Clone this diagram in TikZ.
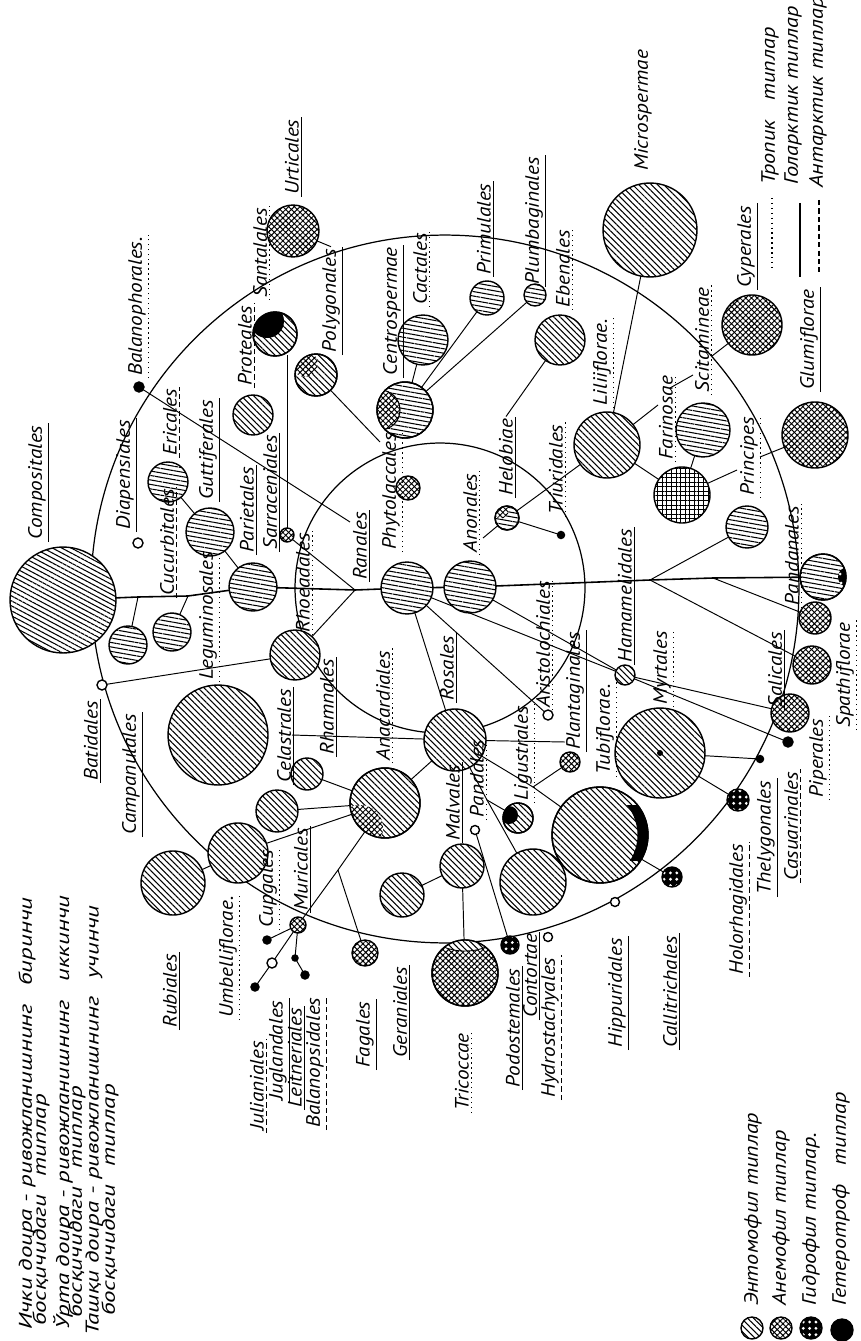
\documentclass[tikz,border=0pt]{standalone}
\usepackage{fontspec}
\setmainfont{PT Sans}
\newfontfamily\lf{PT Sans}[FakeStretch=1.1]
\newfontfamily\gf{PT Sans}[FakeStretch=1.15]
\newfontfamily\hf{PT Sans}[FakeStretch=1.35]
\usetikzlibrary{patterns.meta}
\pgfdeclarelayer{bg}
\pgfsetlayers{bg,main}
\tikzset{
  ento/.style={pattern={Lines[angle=-45,distance=2.5pt,line width=0.6pt]}},
  entos/.style={pattern={Lines[angle=-28,distance=2.5pt,line width=0.6pt]}},
  entoh/.style={pattern={Lines[angle=-10,distance=2.5pt,line width=0.6pt]}},
  anem/.style={pattern={Hatch[angle=45,distance=2.3pt,line width=0.55pt]}},
  anemq/.style={pattern={Hatch[angle=0,distance=2.6pt,line width=0.55pt]}},
  hydro/.style={preaction={fill=black},pattern={Dots[distance=3.6pt,radius=0.9pt]},pattern color=white},
  hetero/.style={fill=black},
  openc/.style={},
  sph/.style={circle,draw,line width=0.8pt,inner sep=0pt,outer sep=0pt,preaction={fill=white}},
  lbl/.style={rotate=90,anchor=west,inner sep=1.2pt,font=\lf\itshape\fontsize{11}{12}\selectfont},
  lgt/.style={rotate=90,anchor=west,inner sep=1pt,font=\gf\itshape\fontsize{11}{12}\selectfont},
  lgs/.style={rotate=90,anchor=west,inner sep=1pt,font=\hf\itshape\fontsize{10.5}{11}\selectfont},
  ulsol/.style={line width=0.7pt},
  uldot/.style={line width=0.8pt,dotted},
  uldash/.style={line width=0.7pt,dash pattern=on 3pt off 1.8pt},
  ulnone/.style={draw=none},
  con/.style={line width=0.55pt},
  trunk/.style={line width=0.9pt},
  ring/.style={line width=0.7pt}
}
\newcommand\sphere[4]{\node[sph,#4,minimum size={#3*0.04cm}] (#1) at (#2) {};}
\newcommand\lab[4]{\node[lbl] (#1) at (#2) {#3}; \draw[#4] (#1.south west) -- (#1.south east);}
\begin{document}
\begin{tikzpicture}[x=0.02cm,y=-0.02cm]
\begin{pgfonlayer}{bg}
\fill[white] (0,0) rectangle (861,1341);
\end{pgfonlayer}
\useasboundingbox (0,0) rectangle (861,1341);

% ---------- spheres ----------
\sphere{urt}{293,231}{26}{anem}
\sphere{san}{275,334}{22}{ento}
\sphere{pro}{253,415}{20}{ento}
\sphere{pol}{316,375}{21}{ento}
\sphere{cen}{423,340}{25}{entoh}
\sphere{phy}{405,410}{28}{entoh}
\sphere{sma}{408,488}{12}{anem}
\sphere{ran}{407,588}{26}{entoh}
\sphere{ano}{470,587}{26}{entoh}
\sphere{hel}{507,518}{12}{entoh}
\sphere{dtr}{561,535}{3.5}{hetero}
\sphere{ebe}{560,340}{25}{ento}
\sphere{pri}{487,298}{17}{entoh}
\sphere{plu}{535,295}{11}{entoh}
\sphere{cyp}{752,325}{30}{anem}
\sphere{mic}{650,230}{47}{ento}
\sphere{glu}{815,435}{33}{anem}
\sphere{lil}{607,445}{33}{ento}
\sphere{far}{703,430}{27}{entoh}
\sphere{sxx}{682,495}{28}{anemq}
\sphere{prc}{747,527}{21}{entoh}
\sphere{pan}{823,577}{23}{entoh}
\sphere{sac}{815,618}{16}{anem}
\sphere{spa}{812,665}{19}{anem}
\sphere{pip}{790,713}{19}{anem}
\sphere{pid}{788,742}{5}{hetero}
\sphere{myr}{660,753}{45}{ento}
\sphere{cad}{760,759}{3.5}{hetero}
\sphere{hol}{738,800}{11}{hydro}
\sphere{tub}{600,835}{48}{ento}
\sphere{cal}{672,877}{10}{hydro}
\sphere{hip}{615,902}{4.5}{openc}
\sphere{ros}{455,740}{31}{ento}
\sphere{ana}{385,803}{35}{ento}
\sphere{cel}{307,774}{16}{ento}
\sphere{cup}{277,811}{21}{ento}
\sphere{mal}{462,866}{22}{ento}
\sphere{ger}{402,895}{22}{ento}
\sphere{tri}{465,973}{33}{anem}
\sphere{fag}{365,953}{13}{anem}
\sphere{pod}{510,945}{9}{hydro}
\sphere{mur}{298,925}{8}{anem}
\sphere{lig}{518,818}{15}{ento}
\sphere{con}{533,882}{33}{ento}
\sphere{pla}{570,762}{10}{anem}
\sphere{ari}{548,715}{5}{openc}
\sphere{pnd}{475,830}{4.5}{openc}
\sphere{hyd}{548,937}{4.5}{openc}
\sphere{com}{63,600}{53}{entos}
\sphere{cam}{128,645}{19}{entoh}
\sphere{cuc}{172,632}{19}{entoh}
\sphere{eri}{168,482}{20}{entoh}
\sphere{gut}{210,532}{24}{entoh}
\sphere{par}{253,587}{24}{entoh}
\sphere{rho}{295,655}{25}{ento}
\sphere{dia}{138,543}{5}{openc}
\sphere{sar}{287,535}{7}{anem}
\sphere{bal}{139,387}{5}{hetero}
\sphere{bat}{102,685}{5}{openc}
\sphere{leg}{218,735}{50}{ento}
\sphere{rub}{173,883}{32}{ento}
\sphere{umb}{238,853}{30}{ento}
\sphere{d1}{267,940}{4}{hetero}
\sphere{d2}{272,963}{5}{openc}
\sphere{d3}{255,987}{4}{hetero}
\sphere{d4}{295,958}{3}{hetero}
\sphere{d5}{305,975}{4}{hetero}
\sphere{ham}{625,675}{10}{ento}

% ---------- mixed fillings ----------
\begin{scope}
\clip (san.center) circle[radius=0.44cm];
\fill[black] (267,321) circle[radius=0.34cm];
\end{scope}
\draw[line width=0.8pt] (san.center) circle[radius=0.44cm];
\begin{scope}
\clip (phy.center) circle[radius=0.56cm];
\fill[white] (380,410) circle[radius=0.4cm];
\fill[anem] (380,410) circle[radius=0.4cm];
\draw[line width=0.6pt] (380,410) circle[radius=0.4cm];
\end{scope}
\draw[line width=0.8pt] (phy.center) circle[radius=0.56cm];
\begin{scope}
\clip (pol.center) circle[radius=0.42cm];
\fill[white] (305,364) circle[radius=0.26cm];
\fill[anem] (305,364) circle[radius=0.26cm];
\end{scope}
\draw[line width=0.8pt] (pol.center) circle[radius=0.42cm];
\begin{scope}
\clip (ana.center) circle[radius=0.7cm];
\fill[white] (360,828) circle[radius=0.46cm];
\fill[anem] (360,828) circle[radius=0.46cm];
\end{scope}
\draw[line width=0.8pt] (ana.center) circle[radius=0.7cm];
\begin{scope}
\clip (tub.center) circle[radius=0.96cm];
\clip (620,805) rectangle (660,860);
\fill[black,even odd rule] (600,835) circle[radius=0.96cm] (590,835) circle[radius=0.95cm];
\end{scope}
\draw[line width=0.8pt] (tub.center) circle[radius=0.96cm];
\begin{scope}
\clip (tri.center) circle[radius=0.66cm];
\fill[white] (465,936) ellipse[x radius=0.62cm,y radius=0.3cm];
\fill[ento] (465,936) ellipse[x radius=0.62cm,y radius=0.3cm];
\draw[line width=0.5pt] (465,936) ellipse[x radius=0.62cm,y radius=0.3cm];
\end{scope}
\draw[line width=0.8pt] (tri.center) circle[radius=0.66cm];
\begin{scope}
\clip (lig.center) circle[radius=0.3cm];
\fill[black] (509,815) circle[radius=0.18cm];
\end{scope}
\draw[line width=0.8pt] (lig.center) circle[radius=0.3cm];
\begin{scope}
\clip (pan.center) circle[radius=0.46cm];
\fill[black] (848,577) circle[radius=0.2cm];
\fill[white] (840,574) circle[radius=0.03cm];
\fill[white] (841,583) circle[radius=0.03cm];
\end{scope}
\draw[line width=0.8pt] (pan.center) circle[radius=0.46cm];
\begin{scope}
\clip (hel.center) circle[radius=0.24cm];
\fill[white] (501,511) circle[radius=0.15cm];
\fill[anem] (501,511) circle[radius=0.15cm];
\end{scope}
\draw[line width=0.8pt] (hel.center) circle[radius=0.24cm];
\fill[black] (660,753) circle[radius=0.06cm];

% ---------- labels ----------
\lab{comL}{37,542}{Compositales}{ulsol}
\lab{diaL}{125,532}{Diapensiales}{ulsol}
\lab{balL}{137,378}{Balanophorales.}{uldot}
\lab{eriL}{170,458}{Ericales}{uldash}
\lab{cucL}{167,598}{Cucurbitales}{uldash}
\lab{gutL}{208,502}{Guttiferales}{ulsol}
\lab{legL}{208,682}{Leguminosales}{uldot}
\lab{parL}{247,555}{Parietales}{ulsol}
\lab{sarL}{270,552}{Sarraceniales}{ulsol}
\lab{proL}{245,388}{Proteales}{uldash}
\lab{sanL}{260,300}{Santalales}{uldot}
\lab{urtL}{292,197}{Urticales}{ulsol}
\lab{polL}{331,355}{Polygonales}{ulsol}
\lab{cenL}{392,378}{Centrospermae}{ulsol}
\lab{cacL}{420,307}{Cactales}{uldot}
\lab{priL}{484,277}{Primulales}{ulsol}
\lab{pluL}{534,287}{Plumbaginales}{ulsol}
\lab{ebeL}{563,310}{Ebenales}{uldot}
\lab{phyL}{391,552}{Phytolaccales}{uldot}
\lab{ranL}{360,582}{Ranales}{ulsol}
\lab{rhoL}{303,635}{Rhoeadales}{uldot}
\lab{anoL}{470,555}{Anonales}{uldot}
\lab{helL}{506,498}{Helobiae}{ulsol}
\lab{triL}{556,517}{Triuridales}{uldot}
\lab{ariL}{543,710}{Aristolochiales}{uldot}
\lab{plaL}{575,752}{Plantaginales}{ulsol}
\lab{hamL}{625,665}{Hamamelidales}{ulsol}
\lab{tubL}{605,777}{Tubiflorae.}{uldot}
\lab{myrL}{662,707}{Myrtales}{uldot}
\lab{salL}{775,710}{Salicales}{ulsol}
\lab{panL}{792,608}{Pandanales}{uldot}
\lab{prcL}{749,498}{Principes}{uldot}
\lab{farL}{666,462}{Farinosae}{uldot}
\lab{lilL}{602,408}{Liliiflorae.}{uldot}
\lab{sciL}{702,395}{Scitamineae}{uldot}
\lab{cypL}{746,290}{Cyperales}{ulsol}
\lab{gluL}{809,392}{Glumiflorae}{ulsol}
\lab{micL}{643,173}{Microspermae}{ulnone}
\lab{spaL}{845,730}{Spathiflorae}{uldot}
\lab{pipL}{818,800}{Piperales}{uldot}
\lab{casL}{791,883}{Casuarinales}{uldash}
\lab{theL}{766,897}{Thelygonales}{ulsol}
\lab{holL}{738,977}{Holorhagidales}{uldash}
\lab{calL}{670,1050}{Callitrichales}{ulsol}
\lab{hipL}{617,1050}{Hippuridales}{ulsol}
\lab{triC}{462,1113}{Tricoccae}{uldot}
\lab{podL}{513,1090}{Podostemales}{ulsol}
\lab{conL}{530,1020}{Contortae}{ulsol}
\lab{hydL}{550,1100}{Hydrostachyales}{uldash}
\lab{gerL}{400,1060}{Geraniales}{ulsol}
\lab{fagL}{365,1070}{Fagales}{ulsol}
\lab{leiL}{295,1110}{Leitneriales}{ulsol}
\lab{blnL}{315,1130}{Balanopsidales}{uldash}
\lab{jugL}{278,1103}{Juglandales}{ulsol}
\lab{julL}{257,1133}{Julianiales}{uldash}
\lab{umbL}{228,1020}{Umbelliflorae.}{uldot}
\lab{rubL}{170,1030}{Rubiales}{ulsol}
\lab{camL}{131,837}{Campanulales}{ulsol}
\lab{batL}{91,783}{Batidales}{ulsol}
\lab{celL}{284,785}{Celastrales}{ulsol}
\lab{cupL}{268,930}{Cupgales}{uldot}
\lab{murL}{301,913}{Muricales}{ulsol}
\lab{rhaL}{327,757}{Rhamnales}{ulsol}
\lab{anaL}{383,763}{Anacardiales}{uldot}
\lab{rosL}{447,703}{Rosales}{ulsol}
\lab{malL}{453,843}{Malvales}{ulsol}
\lab{pndL}{477,820}{Pandales}{uldot}
\lab{ligL}{523,803}{Ligustrales}{uldot}

% ---------- legends ----------
\node[lgt] (t1) at (770,187) {Тропик\quad типлар};
\node[lgt] (t2) at (793,187) {Голарктик типлар};
\node[lgt] (t3) at (818,190) {Антарктик типлар};
\coordinate (t1a) at (772,198); \coordinate (t1b) at (772,270);
\coordinate (t2a) at (800,203); \coordinate (t2b) at (800,277);
\coordinate (t3a) at (819,200); \coordinate (t3b) at (819,272);
\draw[uldot] (t1a) -- (t1b);
\draw[line width=1pt] (t2a) -- (t2b);
\draw[uldash] (t3a) -- (t3b);

\sphere{k1}{752,1328}{11}{ento}
\sphere{k2}{781,1328}{11}{anem}
\sphere{k3}{811,1328}{11}{hydro}
\sphere{k4}{842,1330}{11}{hetero}
\node[lgt] (e1) at (753,1308) {Энтомофил типлар};
\node[lgt] (e2) at (781,1308) {Анемофил типлар};
\node[lgt] (e3) at (811,1308) {Гидрофил типлар.};
\node[lgt] (e4) at (841,1308) {Гетеротроф\quad типлар};

\node[lgs] (b1) at (27,1332) {Ички доира - ривожланишнинг\quad биринчи};
\node[lgs] (b2) at (41,1328) {босқичидаги\quad типлар};
\node[lgs] (b3) at (63,1332) {Ўрта доира - ривожланишнинг\quad иккинчи};
\node[lgs] (b4) at (77,1320) {босқичидаги\quad типлар};
\node[lgs] (b5) at (94,1338) {Ташқи доира - ривожланишнинг\quad учинчи};
\node[lgs] (b6) at (110,1318) {босқичидаги\quad типлар};

% ---------- junctions ----------
\coordinate (jc1) at (138,597);
\coordinate (jc2) at (188,596);
\coordinate (j1) at (355,590);
\coordinate (j2) at (650,580);
\coordinate (j3) at (713,578);
\coordinate (jr) at (350,522);
\coordinate (jp) at (380,442);
\coordinate (ja) at (483,538);
\coordinate (jf) at (658,405);
\coordinate (jf2) at (670,388);
\coordinate (jsc) at (693,375);
\coordinate (jpr) at (737,470);
\coordinate (jpr2) at (760,457);
\coordinate (jsc2) at (712,356);
\coordinate (jm) at (338,870);
\coordinate (jh1) at (292,735);
\coordinate (jh2) at (565,742);
\coordinate (jl) at (533,787);
\coordinate (jq) at (487,800);
\coordinate (js) at (287,355);
\coordinate (oc) at (445,589);
\coordinate (ic) at (440,588);

% ---------- connectors ----------
\begin{pgfonlayer}{bg}
\draw[ring] (oc) circle[radius=7.08cm];
\draw[ring] (ic) circle[radius=2.9cm];
\draw[trunk] (com) -- (jc1) -- (jc2) -- (par);
\draw[trunk] (par) -- (j1) -- (ran);
\draw[trunk] (ran) -- (ano);
\draw[trunk] (ano) -- (j2) -- (j3) -- (pan);
\draw[con] (jc1) -- (cam);
\draw[con] (jc2) -- (cuc);
\draw[con] (eri) -- (gut);
\draw[con] (gut) -- (par);
\draw[con] (bat) -- (rho);
\draw[con] (rho) -- (j1);
\draw[con] (sar) -- (j1);
\draw[con] (sar) -- (js);
\draw[con] (bal) -- (jr);
\draw[con] (cen) -- (phy);
\draw[con] (phy) -- (pri);
\draw[con] (phy) -- (plu);
\draw[con] (pol) -- (jp);
\draw[con] (urt) -- (polL.east);
\draw[con] (ebe) -- (helL.east);
\draw[con] (hel) -- (dtr);
\draw[con] (ja) -- (hel);
\draw[con] (hel) -- (lil);
\draw[con] (ran) -- (ros);
\draw[con] (ran) -- (ari);
\draw[con] (ran) -- (ham);
\draw[con] (ano) -- (ham);
\draw[con] (lil) -- (mic);
\draw[con] (lil) -- (jf);
\draw[con] (jf2) -- (jsc);
\draw[con] (lil) -- (sxx);
\draw[con] (sxx) -- (far);
\draw[con] (sxx) -- (jpr);
\draw[con] (glu) -- (jpr2);
\draw[con] (cyp) -- (jsc2);
\draw[con] (j2) -- (prc);
\draw[con] (j2) -- (spa);
\draw[con] (j3) -- (sac);
\draw[con] (ham) -- (pip);
\draw[con] (ham) -- (pid);
\draw[con] (myr) -- (cad);
\draw[con] (myr) -- (hol);
\draw[con] (tub) -- (cal);
\draw[con] (ros) -- (ana);
\draw[con] (cel) -- (ana);
\draw[con] (cup) -- (ana);
\draw[con] (umb) -- (ana);
\draw[con] (rub) -- (umb);
\draw[con] (ana) -- (jm) -- (mur);
\draw[con] (jm) -- (fag);
\draw[con] (mur) -- (d1);
\draw[con] (mur) -- (d2);
\draw[con] (d2) -- (d3);
\draw[con] (mur) -- (d4) -- (d5);
\draw[con] (jh1) -- (ros);
\draw[con] (ros) -- (jh2);
\draw[con] (ros) -- (jl) -- (pla);
\draw[con] (jl) -- (tub);
\draw[con] (ros) -- (jq) -- (lig);
\draw[con] (jq) -- (con);
\draw[con] (pnd) -- (pod);
\draw[con] (mal) -- (ger);
\draw[con] (mal) -- (tri);
\end{pgfonlayer}
\end{tikzpicture}
\end{document}
